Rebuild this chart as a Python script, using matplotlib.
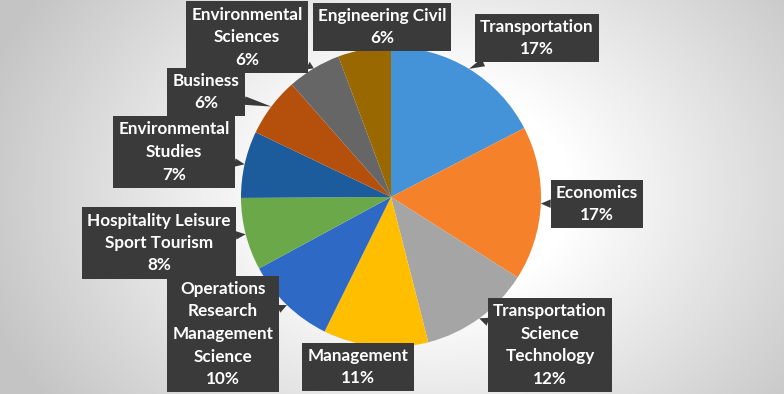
import numpy as np
import matplotlib
matplotlib.use("Agg")
from matplotlib import pyplot as plt

# slice shares (clockwise from 12 o'clock)
categories = ["Transportation", "Economics", "Transportation\nScience\nTechnology",
              "Management", "Operations\nResearch\nManagement\nScience",
              "Hospitality Leisure\nSport Tourism", "Environmental\nStudies",
              "Business", "Environmental\nSciences", "Engineering Civil"]
shares = [17.4, 16.6, 12.0, 11.3, 9.8, 7.8, 7.2, 6.4, 5.8, 5.7]
colors = ["#4492d8", "#f5822a", "#a5a5a5", "#ffbf00", "#2f69c6",
          "#6aa84a", "#1d5c9c", "#b4500c", "#666666", "#9a6800"]

# label box centres in pixels (x, y from top)
label_pos = [(537, 38), (597, 204), (550, 345), (358, 367), (223, 334),
             (159, 243), (174, 152), (206, 92), (247, 37), (382, 27)]

W, H = 784, 394
fig = plt.figure(figsize=(W / 100, H / 100), dpi=100)
ax = fig.add_axes([0, 0, 1, 1])

# radial gray background
yy, xx = np.mgrid[0:H, 0:W]
r = np.hypot(xx - 430, (yy - 200) * 1.3) / 470.0
shade = 1.0 - 0.23 * np.clip((r - 0.3) / 0.7, 0, 1)
bg = np.dstack([shade, shade, shade])
ax.imshow(bg, extent=(0, W, 0, H), origin="lower", zorder=0, aspect="auto")

cx, cy, rad = 391, H - 197, 150
wedges, _ = ax.pie(shares, colors=colors, startangle=90, counterclock=False,
                   center=(cx, cy), radius=rad, frame=True,
                   wedgeprops=dict(linewidth=0))
ax.set_xlim(0, W)
ax.set_ylim(0, H)
ax.set_aspect("equal")
ax.axis("off")

total = sum(shares)
for w, name, val, (lx, ly) in zip(wedges, categories, shares, label_pos):
    mid = np.deg2rad((w.theta1 + w.theta2) / 2)
    tip = (cx + rad * np.cos(mid), cy + rad * np.sin(mid))
    txt = "%s\n%d%%" % (name, round(val / total * 100))
    ax.annotate(txt, xy=tip, xytext=(lx, H - ly), textcoords="data",
                ha="center", va="center", color="white", fontsize=12.3,
                fontweight="bold", family=["Lato", "DejaVu Sans"],
                linespacing=1.5, zorder=5,
                bbox=dict(boxstyle="square,pad=0.3", fc="#3a3a3a", ec="none"),
                arrowprops=dict(arrowstyle="wedge,tail_width=0.5",
                                fc="#3a3a3a", ec="none", shrinkA=0, shrinkB=0))

fig.savefig("out.png", dpi=100)
